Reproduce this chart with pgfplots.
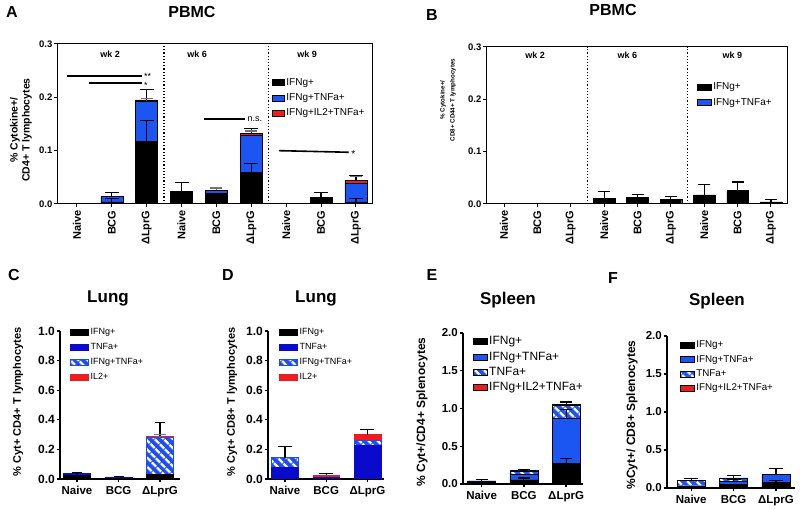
\documentclass[border=0pt]{standalone}
\usepackage{pgfplots}
\pgfplotsset{compat=1.18}
\usepackage{fontspec}
\setmainfont{Liberation Sans}
\usetikzlibrary{patterns.meta}
\definecolor{cblue}{RGB}{28,86,242}
\definecolor{dblue}{RGB}{10,10,205}
\definecolor{hblue}{RGB}{30,78,238}
\definecolor{cred}{RGB}{238,28,28}
\newcommand{\fs}[1]{\fontsize{#1}{#1}\selectfont}
\pgfplotsset{/pgf/number format/assume math mode=true,
  hatch/.style={fill=#1, postaction={pattern={Lines[angle=-45,distance=6.5pt,line width=2.4pt]}, pattern color=white}},
  ebar/.style 2 args={only marks, mark=-, mark size=#2, color=#1,
    mark options={line width=1.2pt, draw=#1, solid}, forget plot,
    error bars/.cd, y dir=minus, y explicit, error mark=none,
    error bar style={line width=1.2pt, draw=#1, solid}},
  yfmt/.style={yticklabel style={/pgf/number format/fixed,/pgf/number format/fixed zerofill,/pgf/number format/precision=1}},
}
\begin{document}
\begin{tikzpicture}[x=1pt,y=1pt]
\path[use as bounding box] (0,0) rectangle (800,510);

% ---------------- Panel A ----------------
\begin{axis}[at={(57pt,306pt)}, anchor=south west, scale only axis, width=315pt, height=160pt,
  xmin=-0.57, xmax=8.46, ymin=0, ymax=0.3,
  ybar stacked, bar width=0.63,
  axis line style={line width=1pt},
  tick pos=left, tick align=outside, major tick length=3pt,
  tick style={line width=1pt, black},
  ytick={0,0.1,0.2,0.3}, yfmt,
  yticklabel style={font=\bfseries\fs{9.5}, inner xsep=1.5pt},
  xtick={0,...,8}, xticklabels={Naive,BCG,ΔLprG,Naive,BCG,ΔLprG,Naive,BCG,ΔLprG},
  xticklabel style={rotate=90, anchor=east, font=\bfseries\fs{11}},
  legend image code/.code={\draw[#1] (0pt,-3pt) rectangle (12pt,3pt);},
  legend style={draw=none, fill=none, at={(0.682,0.80)}, anchor=north west, font=\fs{10}, inner sep=0pt, row sep=3pt},
  legend cell align=left]
\addplot[fill=black, draw=black] coordinates {(0,0) (1,0.004) (2,0.117) (3,0.0237) (4,0.020) (5,0.059) (6,0) (7,0.013) (8,0.004)};
\addplot[fill=cblue, draw=black] coordinates {(0,0) (1,0.010) (2,0.0755) (3,0) (4,0.006) (5,0.070) (6,0) (7,0) (8,0.035)};
\addplot[fill=cred, draw=black] coordinates {(0,0) (1,0) (2,0.0025) (3,0) (4,0) (5,0.004) (6,0) (7,0) (8,0.005)};
\legend{IFNg+, IFNg+TNFa+, IFNg+IL2+TNFa+}
\end{axis}
\begin{axis}[at={(57pt,306pt)}, anchor=south west, scale only axis, width=315pt, height=160pt,
  xmin=-0.57, xmax=8.46, ymin=0, ymax=0.3, hide axis, clip=false]
\addplot[black, dotted, line width=1.2pt] coordinates {(2.5,0) (2.5,0.3)};
\addplot[black, dotted, line width=1.2pt] coordinates {(5.5,0) (5.5,0.3)};
\addplot[ebar={black!55}{6pt}] coordinates {(2,0.1985) +- (0,0.006) (4,0.030) +- (0,0.004) (5,0.137) +- (0,0.004) (8,0.051) +- (0,0.007)};
\addplot[ebar={black}{7pt}] coordinates {(1,0.011) +- (0,0.007) (1,0.021) +- (0,0.007) (2,0.157) +- (0,0.040) (2,0.214) +- (0,0.019) (3,0.0397) +- (0,0.016) (5,0.076) +- (0,0.017) (5,0.141) +- (0,0.008) (7,0.022) +- (0,0.009) (8,0.010) +- (0,0.006) (8,0.054) +- (0,0.010)};
\addplot[black, line width=1.8pt] coordinates {(-0.29,0.2406) (1.86,0.2406)};
\addplot[black, line width=1.8pt] coordinates {(0.34,0.227) (1.86,0.227)};
\addplot[black, line width=1.8pt] coordinates {(3.64,0.1594) (4.81,0.1594)};
\addplot[black, line width=1.6pt] coordinates {(5.79,0.100) (7.79,0.097)};
\node[anchor=west, font=\fs{9}, inner sep=0pt] at (axis cs:1.92,0.2395) {**};
\node[anchor=west, font=\fs{9}, inner sep=0pt] at (axis cs:1.92,0.2225) {*};
\node[anchor=west, font=\fs{9}, inner sep=1pt] at (axis cs:4.86,0.1594) {n.s.};
\node[anchor=west, font=\fs{10}, inner sep=0pt] at (axis cs:7.86,0.093) {*};
\node[font=\bfseries\fs{9}] at (axis cs:0.95,0.281) {wk 2};
\node[font=\bfseries\fs{9}] at (axis cs:3.45,0.281) {wk 6};
\node[font=\bfseries\fs{9}] at (axis cs:6.6,0.281) {wk 9};
\end{axis}

% ---------------- Panel B ----------------
\begin{axis}[at={(486pt,306pt)}, anchor=south west, scale only axis, width=301pt, height=157pt,
  xmin=-0.54, xmax=8.48, ymin=0, ymax=0.3,
  ybar stacked, bar width=0.65,
  axis line style={line width=1pt},
  tick pos=left, tick align=outside, major tick length=3pt,
  tick style={line width=1pt, black},
  ytick={0,0.1,0.2,0.3}, yfmt,
  yticklabel style={font=\bfseries\fs{9.5}, inner xsep=1.5pt},
  xtick={0,...,8}, xticklabels={Naive,BCG,ΔLprG,Naive,BCG,ΔLprG,Naive,BCG,ΔLprG},
  xticklabel style={rotate=90, anchor=east, font=\bfseries\fs{11}},
  legend image code/.code={\draw[#1] (0pt,-3pt) rectangle (14pt,3pt);},
  legend style={draw=none, fill=none, at={(0.70,0.785)}, anchor=north west, font=\fs{10}, inner sep=0pt, row sep=3pt},
  legend cell align=left]
\addplot[fill=black, draw=black] coordinates {(0,0) (1,0) (2,0.001) (3,0.011) (4,0.0128) (5,0.009) (6,0.0172) (7,0.0254) (8,0.004)};
\addplot[fill=cblue, draw=black] coordinates {(0,0) (1,0) (2,0) (3,0) (4,0) (5,0) (6,0) (7,0) (8,0)};
\legend{IFNg+, IFNg+TNFa+}
\end{axis}
\begin{axis}[at={(486pt,306pt)}, anchor=south west, scale only axis, width=301pt, height=157pt,
  xmin=-0.54, xmax=8.48, ymin=0, ymax=0.3, hide axis, clip=false]
\addplot[black, dotted, line width=1.2pt] coordinates {(2.5,0) (2.5,0.3)};
\addplot[black, dotted, line width=1.2pt] coordinates {(5.5,0) (5.5,0.3)};
\addplot[ebar={black}{6pt}] coordinates {(3,0.0235) +- (0,0.0125) (4,0.0185) +- (0,0.0057) (5,0.0147) +- (0,0.0057) (6,0.037) +- (0,0.0198) (7,0.042) +- (0,0.0166) (8,0.009) +- (0,0.005)};
\node[font=\bfseries\fs{9}] at (axis cs:0.93,0.284) {wk 2};
\node[font=\bfseries\fs{9}] at (axis cs:3.70,0.284) {wk 6};
\node[font=\bfseries\fs{9}] at (axis cs:6.84,0.284) {wk 9};
\end{axis}

% ---------------- Panel C ----------------
\begin{axis}[at={(60pt,31pt)}, anchor=south west, scale only axis, width=120pt, height=148pt,
  xmin=-0.41, xmax=2.48, ymin=0, ymax=1,
  ybar stacked, bar width=0.65,
  axis lines*=left, axis line style={line width=1.3pt},
  tick align=outside, major tick length=3.5pt, tick style={line width=1.3pt, black},
  ytick={0,0.2,0.4,0.6,0.8,1.0}, yfmt,
  yticklabel style={font=\bfseries\fs{12}, inner xsep=1.5pt},
  xtick={0,1,2}, xticklabels={Naive,BCG,ΔLprG},
  xticklabel style={font=\bfseries\fs{11.5}},
  legend image code/.code={\draw[#1] (0pt,-3pt) rectangle (18pt,3pt);},
  legend style={draw=none, fill=none, at={(0.083,1.03)}, anchor=north west, font=\fs{9}, inner sep=0pt, row sep=3pt},
  legend cell align=left]
\addplot[fill=black, draw=black] coordinates {(0,0.025) (1,0.004) (2,0.032)};
\addplot[fill=dblue, draw=dblue] coordinates {(0,0.012) (1,0.008) (2,0)};
\addplot[hatch=hblue, draw=hblue] coordinates {(0,0.003) (1,0.001) (2,0.251)};
\addplot[fill=cred, draw=cred] coordinates {(0,0) (1,0) (2,0.009)};
\legend{IFNg+, TNFa+, IFNg+TNFa+, IL2+}
\end{axis}
\begin{axis}[at={(60pt,31pt)}, anchor=south west, scale only axis, width=120pt, height=148pt,
  xmin=-0.41, xmax=2.48, ymin=0, ymax=1, hide axis, clip=false]
\addplot[ebar={black!55}{6pt}] coordinates {(2,0.300) +- (0,0.015)};
\addplot[ebar={black}{5pt}] coordinates {(0,0.043) +- (0,0.003) (1,0.017) +- (0,0.004) (2,0.380) +- (0,0.088)};
\end{axis}

% ---------------- Panel D ----------------
\begin{axis}[at={(268pt,31pt)}, anchor=south west, scale only axis, width=116pt, height=148pt,
  xmin=-0.41, xmax=2.4, ymin=0, ymax=1,
  ybar stacked, bar width=0.65,
  axis lines*=left, axis line style={line width=1.3pt},
  tick align=outside, major tick length=3.5pt, tick style={line width=1.3pt, black},
  ytick={0,0.2,0.4,0.6,0.8,1.0}, yfmt,
  yticklabel style={font=\bfseries\fs{12}, inner xsep=1.5pt},
  xtick={0,1,2}, xticklabels={Naive,BCG,ΔLprG},
  xticklabel style={font=\bfseries\fs{11.5}},
  legend image code/.code={\draw[#1] (0pt,-3pt) rectangle (18pt,3pt);},
  legend style={draw=none, fill=none, at={(0.095,1.03)}, anchor=north west, font=\fs{9}, inner sep=0pt, row sep=3pt},
  legend cell align=left]
\addplot[fill=black, draw=black] coordinates {(0,0) (1,0.002) (2,0)};
\addplot[fill=dblue, draw=dblue] coordinates {(0,0.077) (1,0.008) (2,0.225)};
\addplot[hatch=hblue, draw=hblue] coordinates {(0,0.067) (1,0) (2,0.035)};
\addplot[fill=cred, draw=cred] coordinates {(0,0) (1,0.014) (2,0.040)};
\legend{IFNg+, TNFa+, IFNg+TNFa+, IL2+}
\end{axis}
\begin{axis}[at={(268pt,31pt)}, anchor=south west, scale only axis, width=116pt, height=148pt,
  xmin=-0.41, xmax=2.4, ymin=0, ymax=1, hide axis, clip=false]
\addplot[ebar={black}{7pt}] coordinates {(0,0.218) +- (0,0.074) (1,0.038) +- (0,0.014) (2,0.335) +- (0,0.035)};
\end{axis}

% ---------------- Panel E ----------------
\begin{axis}[at={(463pt,26pt)}, anchor=south west, scale only axis, width=120pt, height=151pt,
  xmin=-0.44, xmax=2.4, ymin=0, ymax=2,
  ybar stacked, bar width=0.66,
  axis lines*=left, axis line style={line width=1.3pt},
  tick align=outside, major tick length=3.5pt, tick style={line width=1.3pt, black},
  ytick={0,0.5,1,1.5,2}, yfmt,
  yticklabel style={font=\bfseries\fs{11.5}, inner xsep=1.5pt},
  xtick={0,1,2}, xticklabels={Naive,BCG,ΔLprG},
  xticklabel style={font=\bfseries\fs{11.5}},
  legend image code/.code={\draw[#1] (0pt,-3pt) rectangle (14pt,3pt);},
  legend style={draw=none, fill=none, at={(0.08,0.99)}, anchor=north west, font=\fs{12}, inner sep=0pt, row sep=1.5pt},
  legend cell align=left]
\addplot[fill=black, draw=black] coordinates {(0,0.008) (1,0.055) (2,0.27)};
\addplot[fill=cblue, draw=black] coordinates {(0,0.02) (1,0.075) (2,0.60)};
\addplot[hatch=cblue, draw=black] coordinates {(0,0.012) (1,0.045) (2,0.175)};
\addplot[fill=cred, draw=black] coordinates {(0,0.002) (1,0.003) (2,0.010)};
\legend{IFNg+, IFNg+TNFa+, TNFa+, IFNg+IL2+TNFa+}
\end{axis}
\begin{axis}[at={(463pt,26pt)}, anchor=south west, scale only axis, width=120pt, height=151pt,
  xmin=-0.44, xmax=2.4, ymin=0, ymax=2, hide axis, clip=false]
\addplot[ebar={black}{6pt}] coordinates {(0,0.055) +- (0,0.013) (1,0.080) +- (0,0.025) (1,0.190) +- (0,0.012) (2,0.335) +- (0,0.065) (2,0.99) +- (0,0.12) (2,1.085) +- (0,0.03)};
\end{axis}

% ---------------- Panel F ----------------
\begin{axis}[at={(667pt,22pt)}, anchor=south west, scale only axis, width=128pt, height=152pt,
  xmin=-0.57, xmax=2.45, ymin=0, ymax=2,
  ybar stacked, bar width=0.66,
  axis lines*=left, axis line style={line width=1.3pt},
  tick align=outside, major tick length=3.5pt, tick style={line width=1.3pt, black},
  ytick={0,0.5,1,1.5,2}, yfmt,
  yticklabel style={font=\bfseries\fs{11.5}, inner xsep=1.5pt},
  xtick={0,1,2}, xticklabels={Naive,BCG,ΔLprG},
  xticklabel style={font=\bfseries\fs{11.5}},
  legend image code/.code={\draw[#1] (0pt,-3pt) rectangle (14pt,3pt);},
  legend style={draw=none, fill=none, at={(0.10,0.98)}, anchor=north west, font=\fs{9.8}, inner sep=0pt, row sep=2pt},
  legend cell align=left]
\addplot[fill=black, draw=black] coordinates {(0,0.02) (1,0.044) (2,0.07)};
\addplot[fill=cblue, draw=black] coordinates {(0,0.01) (1,0.046) (2,0.11)};
\addplot[hatch=cblue, draw=black] coordinates {(0,0.07) (1,0.043) (2,0)};
\addplot[fill=cred, draw=black] coordinates {(0,0) (1,0) (2,0.005)};
\legend{IFNg+, IFNg+TNFa+, TNFa+, IFNg+IL2+TNFa+}
\end{axis}
\begin{axis}[at={(667pt,22pt)}, anchor=south west, scale only axis, width=128pt, height=152pt,
  xmin=-0.57, xmax=2.45, ymin=0, ymax=2, hide axis, clip=false]
\addplot[ebar={black}{7pt}] coordinates {(0,0.13) +- (0,0.03) (1,0.11) +- (0,0.02) (1,0.168) +- (0,0.035) (2,0.10) +- (0,0.03) (2,0.255) +- (0,0.07)};
\end{axis}

% ---------------- Labels and titles ----------------
\node[font=\bfseries\fs{16}] at (12,498) {A};
\node[font=\bfseries\fs{16}, anchor=base] at (192,492.7) {PBMC};
\node[font=\bfseries\fs{16}] at (432,495) {B};
\node[font=\bfseries\fs{16}, anchor=base] at (613,494) {PBMC};
\node[font=\bfseries\fs{16}] at (14,235) {C};
\node[font=\bfseries\fs{17}, anchor=base] at (108,207.3) {Lung};
\node[font=\bfseries\fs{16}] at (228,235) {D};
\node[font=\bfseries\fs{17}, anchor=base] at (316,207.3) {Lung};
\node[font=\bfseries\fs{16}] at (432,235) {E};
\node[font=\bfseries\fs{17}, anchor=base] at (508,205) {Spleen};
\node[font=\bfseries\fs{16}] at (613,232) {F};
\node[font=\bfseries\fs{17}, anchor=base] at (717,204) {Spleen};

\node[rotate=90, align=center, font=\bfseries\fontsize{10.5}{12}\selectfont] at (21,380) {\% Cytokine+/\\CD4+ T lymphocytes};
\node[rotate=90, align=center, font=\bfseries\fontsize{6.2}{10}\selectfont] at (448,410) {\% Cytokine+/\\CD8+ CD44+ T lymphocytes};
\node[rotate=90, font=\bfseries\fs{11}] at (18,108) {\% Cyt+ CD4+ T lymphocytes};
\node[rotate=90, font=\bfseries\fs{11}] at (232,108) {\% Cyt+ CD8+ T lymphocytes};
\node[rotate=90, font=\bfseries\fs{12}] at (422,98) {\% Cyt+/CD4+ Splenocytes};
\node[rotate=90, font=\bfseries\fs{12}] at (632,95) {\%Cyt+/ CD8+ Splenocytes};
\end{tikzpicture}
\end{document}
